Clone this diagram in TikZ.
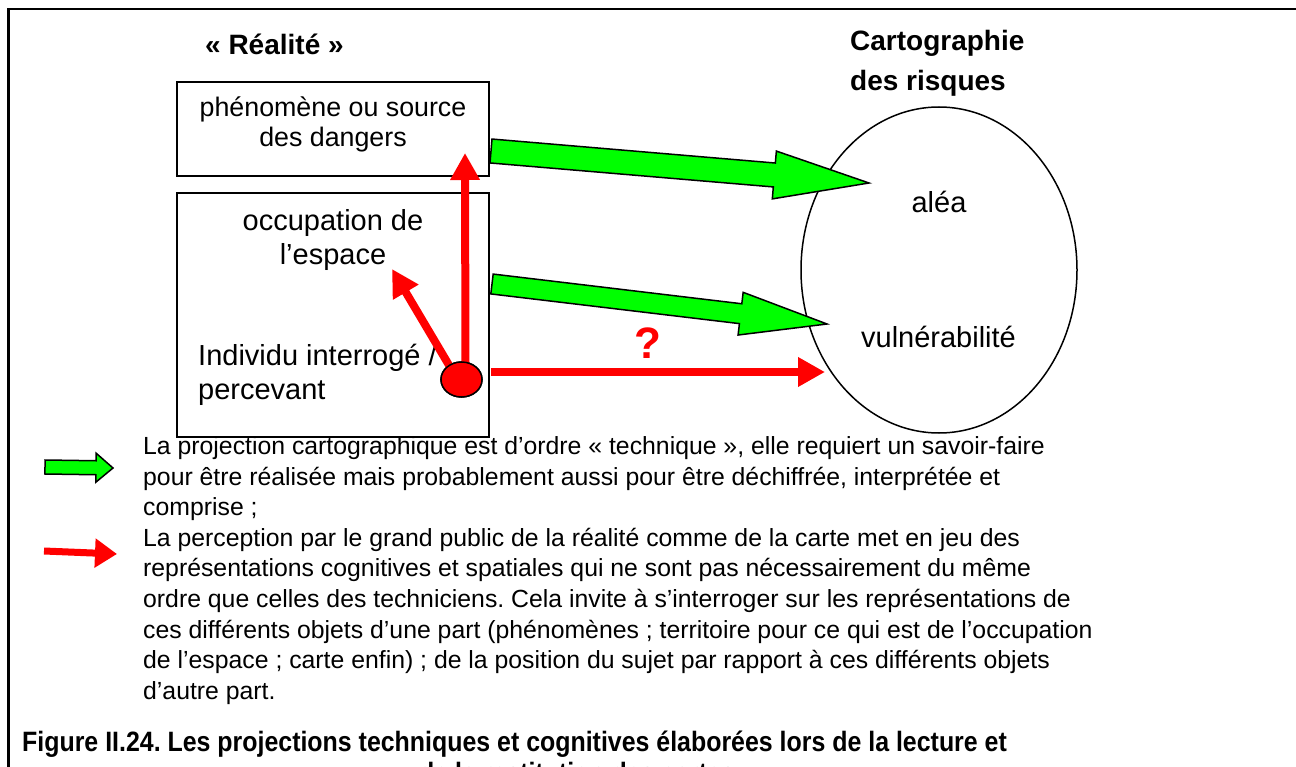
\documentclass[tikz,border=0pt]{standalone}
\usepackage{fontspec}
\setmainfont{Liberation Sans}
\newfontfamily\capfont[FakeStretch=0.89]{Liberation Sans}
\usetikzlibrary{calc,arrows.meta,shapes.geometric}
\definecolor{pgreen}{RGB}{0,255,0}
\definecolor{pred}{RGB}{255,0,0}
\frenchspacing
\newcommand\blockarrow[5]{%
  \coordinate (ba-n) at ($(#2)!#5!(#1)$);
  \filldraw[fill=pgreen,draw=black,line width=1.5pt,line join=miter]
    ($(#1)!#3!90:(#2)$) -- ($(ba-n)!#3!90:(#2)$) -- ($(ba-n)!#4!90:(#2)$) -- (#2)
    -- ($(ba-n)!#4!-90:(#2)$) -- ($(ba-n)!#3!-90:(#2)$) -- ($(#1)!#3!-90:(#2)$) -- cycle;}
\tikzset{
  boxstyle/.style={draw=black,line width=2pt,rectangle,inner sep=0pt},
  txt/.style={inner sep=0pt,font=\fontsize{26.8}{30}\selectfont},
  bigtxt/.style={inner sep=0pt,font=\fontsize{29}{34}\selectfont},
  ttl/.style={inner sep=0pt,anchor=base west,font=\bfseries\fontsize{28}{40}\selectfont},
  leg/.style={inner sep=0pt,anchor=base west,font=\fontsize{24.8}{30}\selectfont},
  capt/.style={inner sep=0pt,font=\capfont\bfseries\fontsize{28}{30}\selectfont},
  redarrow/.style={draw=pred,line width=8pt,-{Triangle[length=27pt,width=28pt]}}
}
\begin{document}
\begin{tikzpicture}[x=1pt,y=-1pt]
\useasboundingbox (0,0) rectangle (1296,767);
\clip (0,0) rectangle (1296,767);
\fill[white] (0,0) rectangle (1296,767);
% outer frame
\draw[line width=2.5pt] (8.5,800) -- (8.5,9) -- (1310,9);

% titles
\node[ttl] (real) at (205,55) {« Réalité »};
\node[ttl] (carto1) at (850,51) {Cartographie};
\node[ttl] (carto2) at (850,91) {des risques};

% boxes
\node[boxstyle,minimum width=312pt,minimum height=94pt] (box1) at (333,129) {};
\node[boxstyle,minimum width=312pt,minimum height=244pt] (box2) at (333,315) {};
\node[txt,anchor=base] (t1a) at (333,117) {phénomène ou source};
\node[txt,anchor=base] (t1b) at (333,147) {des dangers};
\node[bigtxt,anchor=base] (occ) at (333,230.5) {occupation de};
\node[bigtxt,anchor=base] (esp) at (333,264.5) {l’espace};
\node[bigtxt,anchor=base west] (ind) at (198,365.5) {Individu interrogé /};
\node[bigtxt,anchor=base west] (perc) at (198,399.5) {percevant};

% ellipse
\node[draw=black,line width=1.5pt,ellipse,inner sep=0pt,minimum width=276pt,minimum height=326pt] (ell) at (939,270) {};
\node[bigtxt,anchor=base] (alea) at (939,212.5) {aléa};
\node[bigtxt,anchor=base] (vuln) at (938.5,347.5) {vulnérabilité};

% green block arrows
\coordinate (g1s) at ($(box1.east)+(1,22)$);
\coordinate (g1e) at (869,183);
\blockarrow{g1s}{g1e}{12pt}{24pt}{95pt}
\coordinate (g2s) at ($(box2.east)+(2,-31)$);
\coordinate (g2e) at (827,324);
\blockarrow{g2s}{g2e}{10pt}{21.5pt}{87pt}

% red arrows
\coordinate (r1e) at (465,153);
\coordinate (r2e) at (392,269);
\coordinate (r3e) at (825,372);
\node[draw=black,fill=pred,ellipse,inner sep=0pt,line width=1.5pt,minimum width=41pt,minimum height=35pt] (dot) at (461.5,379.5) {};
\draw[redarrow] ($(dot.center)+(4,0)$) -- (r1e);
\draw[redarrow] ($(dot.center)+(-4,0)$) -- (r2e);
\draw[redarrow] ($(box2.east)+(1,57)$) -- (r3e);
\node[draw=black,fill=pred,ellipse,inner sep=0pt,line width=1.5pt,minimum width=41pt,minimum height=35pt] at (dot) {};
\node[inner sep=0pt,anchor=base,text=pred,font=\bfseries\fontsize{44}{44}\selectfont] (q) at (648,359) {?};

% legend arrows
\coordinate (lg1s) at (45,467);
\coordinate (lg1e) at (113,468);
\blockarrow{lg1s}{lg1e}{7pt}{14.5pt}{17pt}
\coordinate (lr1s) at (44,551);
\coordinate (lr1e) at (117,554);
\draw[draw=pred,line width=7pt,-{Triangle[length=22pt,width=28pt]}] (lr1s) -- (lr1e);

% legend text
\node[leg] (l1) at (143,454.5) {La projection cartographique est d’ordre « technique », elle requiert un savoir-faire};
\node[leg] (l2) at (143,485.1) {pour être réalisée mais probablement aussi pour être déchiffrée, interprétée et};
\node[leg] (l3) at (143,515.7) {comprise ;};
\node[leg] (l4) at (143,546.3) {La perception par le grand public de la réalité comme de la carte met en jeu des};
\node[leg] (l5) at (143,576.9) {représentations cognitives et spatiales qui ne sont pas nécessairement du même};
\node[leg] (l6) at (143,607.5) {ordre que celles des techniciens. Cela invite à s’interroger sur les représentations de};
\node[leg] (l7) at (143,638.1) {ces différents objets d’une part (phénomènes ; territoire pour ce qui est de l’occupation};
\node[leg] (l8) at (143,668.7) {de l’espace ; carte enfin) ; de la position du sujet par rapport à ces différents objets};
\node[leg] (l9) at (143,699.3) {d’autre part.};

% caption
\node[capt,anchor=base west] (cap1) at (22,751) {Figure II.24. Les projections techniques et cognitives élaborées lors de la lecture et};
\node[capt,anchor=base] (cap2) at (577,782) {de la restitution des cartes};
\end{tikzpicture}
\end{document}
